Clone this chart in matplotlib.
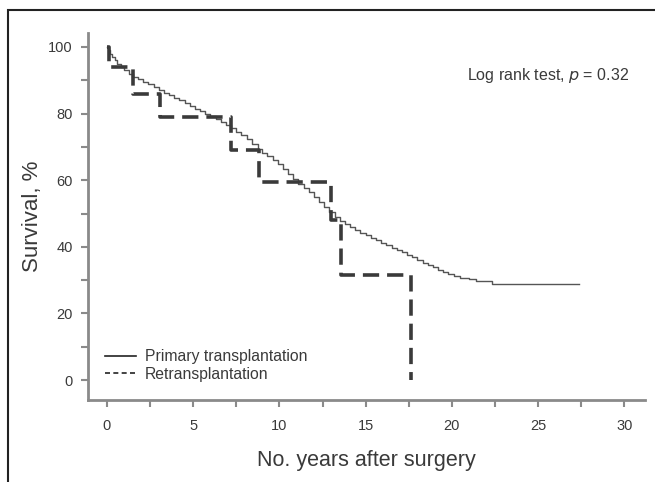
import matplotlib
matplotlib.use("Agg")
import matplotlib.pyplot as plt
from matplotlib.lines import Line2D
from matplotlib.patches import Rectangle

# Kaplan-Meier estimates
primary_t = [0, 0.1, 0.2, 0.3, 0.45, 0.6, 0.8, 1.0, 1.25, 1.5, 1.8, 2.1, 2.4, 2.7,
             3.0, 3.3, 3.6, 3.9, 4.2, 4.5, 4.8, 5.1, 5.4, 5.7, 6.0, 6.3, 6.6, 6.9,
             7.2, 7.5, 7.8, 8.1, 8.4, 8.75, 9.0, 9.3, 9.6, 9.9, 10.2, 10.5, 10.8,
             11.1, 11.4, 11.7, 12.0, 12.3, 12.6, 12.9, 13.2, 13.5, 13.8, 14.1,
             14.4, 14.7, 15.0, 15.3, 15.6, 15.9, 16.2, 16.5, 16.8, 17.1, 17.4,
             17.7, 18.0, 18.3, 18.6, 18.9, 19.2, 19.5, 19.8, 20.1, 20.5, 21.0,
             21.4, 22.3, 27.4]
primary_s = [100, 99, 98, 97, 96, 95, 94, 93, 92, 91, 90.3, 89.6, 89, 88,
             87, 86.3, 85.5, 84.7, 84, 83.2, 82.3, 81.5, 80.7, 80, 79.2, 78.5, 77.5, 76.7,
             75.7, 74.5, 73.5, 72.3, 71, 69.5, 68.3, 67.2, 66, 64.8, 63.5, 62, 60.5,
             59, 57.8, 56.5, 55, 53.5, 52, 50.5, 49, 47.8, 46.8, 45.8,
             45, 44.2, 43.4, 42.6, 41.9, 41.2, 40.5, 39.7, 39, 38.3, 37.6,
             36.8, 36, 35.2, 34.5, 33.8, 33.1, 32.4, 31.8, 31.2, 30.6, 30.2,
             29.7, 28.7, 28.7]

retrans_t = [0, 0.1, 1.5, 3.1, 7.2, 8.8, 13.0, 13.55, 17.65]
retrans_s = [100, 94, 86, 79, 69, 59.5, 48, 31.5, 0]

labels = ["Primary transplantation", "Retransplantation"]
annotation = "Log rank test, $\\it{p}$ = 0.32"

plt.rcParams['font.family'] = ['Liberation Sans', 'DejaVu Sans']
txt = '#3a3a3a'
axc = '#8a8a8a'

fig = plt.figure(figsize=(6.55, 4.82), dpi=100)
ax = fig.add_axes([88 / 655, 1 - 400 / 482, (645 - 88) / 655, (400 - 33) / 482])

ax.plot(primary_t, primary_s, drawstyle='steps-post', color='#555555', lw=1.0)
ax.plot(retrans_t, retrans_s, drawstyle='steps-post', color='#3a3a3a', lw=2.6,
        linestyle=(0, (4.5, 2.2)))

ax.set_xlim(-1.1, 31.2)
ax.set_ylim(-6, 104.2)
ax.set_xticks([0, 5, 10, 15, 20, 25, 30])
ax.set_xticks([2.5, 7.5, 12.5, 17.5, 22.5, 27.5], minor=True)
ax.set_yticks([0, 20, 40, 60, 80, 100])
ax.set_yticks([10, 30, 50, 70, 90], minor=True)

for s in ['top', 'right']:
    ax.spines[s].set_visible(False)
for s in ['left', 'bottom']:
    ax.spines[s].set_color(axc)
    ax.spines[s].set_linewidth(2.0)
ax.tick_params(which='both', color=axc, width=1.5, length=5, labelcolor=txt,
               labelsize=10.5, pad=6)
ax.tick_params(axis='x', which='both', pad=9)

ax.set_xlabel("No. years after surgery", fontsize=15.5, color=txt, labelpad=12)
ax.set_ylabel("Survival, %", fontsize=16, color=txt, labelpad=4)

ax.text(30.3, 91.3, annotation, ha='right', va='center', fontsize=11.5, color=txt)

handles = [Line2D([], [], color='#222222', lw=1.2),
           Line2D([], [], color='#222222', lw=1.2, linestyle=(0, (3, 2)))]
ax.legend(handles, labels, loc='lower left', bbox_to_anchor=(0.03, 0.05),
          frameon=False, fontsize=11.3, handlelength=2.0, handletextpad=0.55,
          labelspacing=0.15, borderpad=0, borderaxespad=0, labelcolor=txt)

fig.add_artist(Rectangle((8 / 655, -0.1), 1.2, 1.1 - 10 / 482, transform=fig.transFigure,
                         fill=False, edgecolor='#222222', lw=1.5))

fig.savefig("out.png", dpi=100)
